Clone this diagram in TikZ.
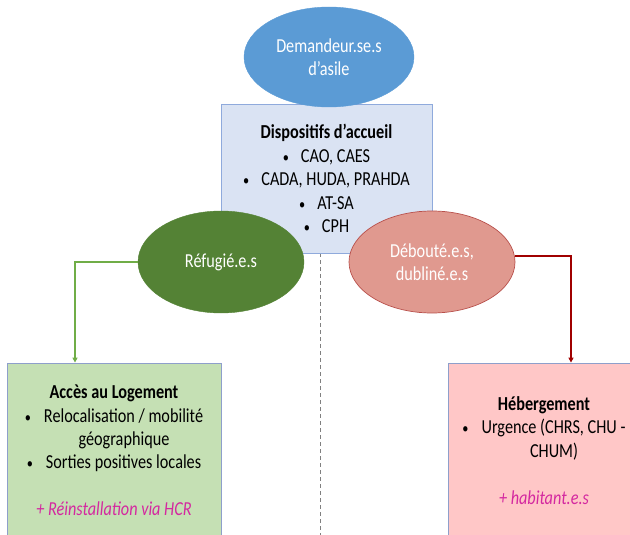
\documentclass[tikz,border=0pt]{standalone}
\usepackage{fontspec}
\setmainfont{Carlito}[FakeStretch=0.82]
\usetikzlibrary{arrows.meta,shapes.geometric}
\definecolor{demblue}{HTML}{5B9BD5}
\definecolor{dispfill}{HTML}{DAE3F3}
\definecolor{dispdraw}{HTML}{8FAADC}
\definecolor{refgreen}{HTML}{548235}
\definecolor{debfill}{HTML}{E0998F}
\definecolor{debdraw}{HTML}{B8504B}
\definecolor{conngreen}{HTML}{70AD47}
\definecolor{connred}{HTML}{A00000}
\definecolor{gboxfill}{HTML}{C5E0B4}
\definecolor{boxdraw}{HTML}{8E9FCB}
\definecolor{rboxfill}{HTML}{FFC7C7}
\definecolor{magtext}{HTML}{D428A0}
\newcommand{\bul}{{\fontsize{15}{15}\selectfont •}}
\tikzset{
  txt/.style={font=\fontsize{19.8}{23.4}\selectfont, align=center},
  oval/.style={ellipse, inner sep=0pt, txt, text=white},
  panel/.style={rectangle, inner sep=0pt, txt, draw=boxdraw, line width=0.8pt},
  conn/.style={line width=1.8pt, -{Triangle[width=5pt,length=5pt]}},
}
\begin{document}
\begin{tikzpicture}[x=1pt,y=-1pt]
\useasboundingbox (0,0) rectangle (630,535);
% dashed divider
\coordinate (dtop) at (320,253);
\coordinate (dbot) at (320,540);
\draw[gray, line width=0.7pt, dash pattern=on 4pt off 3pt] (dtop) -- (dbot);
% central box
\node[panel, draw=dispdraw, fill=dispfill, minimum width=211pt, minimum height=149pt] (disp) at (326.5,178.5)
  {\textbf{Dispositifs d’accueil}\\
   \bul\hspace{12pt}CAO, CAES\\
   \bul\hspace{12pt}CADA, HUDA, PRAHDA\\
   \bul\hspace{12pt}AT-SA\\
   \bul\hspace{12pt}CPH};
% top ellipse
\node[oval, fill=demblue, draw=demblue, minimum width=170pt, minimum height=100pt] (dem) at (329,57)
  {Demandeur.se.s\\d’asile};
% lower ellipses
\node[oval, fill=refgreen, draw=refgreen, minimum width=166pt, minimum height=102pt] (ref) at (221,262)
  {Réfugié.e.s};
\node[oval, fill=debfill, draw=debdraw, line width=0.7pt, minimum width=166pt, minimum height=102pt] (deb) at (432,262)
  {Débouté.e.s,\\dubliné.e.s};
% bottom boxes
\node[panel, fill=gboxfill, minimum width=214pt, minimum height=175pt] (acc) at (114,450.5)
  {\textbf{Accès au Logement}\\
   \bul\hspace{13pt}Relocalisation / mobilité\\
   \hspace*{20pt}géographique\\
   \bul\hspace{13pt}Sorties positives locales\\[23.4pt]
   \textcolor{magtext}{\itshape + Réinstallation via HCR}};
\node[panel, fill=rboxfill, minimum width=192pt, minimum height=175pt] (heb) at (544,450.5)
  {\textbf{Hébergement}\\
   \bul\hspace{13pt}Urgence (CHRS, CHU -\\
   \hspace*{20pt}CHUM)\\[23.4pt]
   \textcolor{magtext}{\itshape + habitant.e.s}};
% connectors
\coordinate (gcorner) at (75,262);
\coordinate (rcorner) at (571,256);
\draw[conn, conngreen, line width=1.5pt] (ref.west) -- (gcorner) -- (gcorner |- acc.north);
\draw[conn, connred] ([yshift=6pt]deb.east) -- (rcorner) -- (rcorner |- heb.north);
\end{tikzpicture}
\end{document}
